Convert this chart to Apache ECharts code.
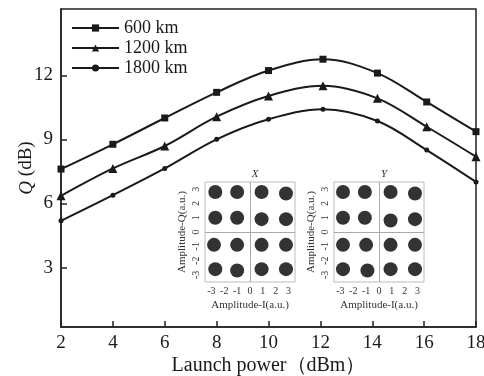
<!DOCTYPE html>
<html>
<head>
<meta charset="utf-8">
<script src="https://cdn.jsdelivr.net/npm/echarts@6/dist/echarts.min.js"></script>
<style>
  html, body { margin: 0; padding: 0; background: #fff; }
  #chart-container { width: 484px; height: 376px; }
</style>
</head>
<body>
<div id="chart-container"></div>
<script>
// launch power (dBm) where markers sit
const powerX = [2, 4, 6, 8, 10, 12.1, 14.2, 16.1, 18];
const q600 = [7.61, 8.77, 10.0, 11.2, 12.22, 12.75, 12.1, 10.75, 9.36];
const q1200 = [6.36, 7.64, 8.69, 10.06, 11.03, 11.51, 10.92, 9.59, 8.19];
const q1800 = [5.19, 6.39, 7.64, 9.0, 9.94, 10.41, 9.86, 8.5, 7.01];
const yTicks = [3, 6, 9, 12];

// constellation cluster centres [I, Q]
const constX = [
  [-2.7, 2.8], [-1.0, 2.8], [0.9, 2.8], [2.8, 2.7],
  [-2.7, 1.0], [-1.0, 1.0], [0.9, 0.9], [2.8, 0.9],
  [-2.8, -0.9], [-1.0, -0.9], [0.9, -0.9], [2.8, -0.9],
  [-2.7, -2.6], [-1.0, -2.7], [0.9, -2.6], [2.8, -2.6]
];
const constY = [
  [-2.8, 2.8], [-1.1, 2.8], [0.9, 2.8], [2.8, 2.7],
  [-2.8, 1.0], [-1.1, 1.0], [0.9, 0.8], [2.8, 0.9],
  [-2.8, -0.9], [-1.0, -0.9], [0.9, -0.9], [2.8, -0.9],
  [-2.8, -2.6], [-0.9, -2.7], [0.9, -2.6], [2.8, -2.6]
];
const insetTicks = [-3, -2, -1, 0, 1, 2, 3];

const serif = "'Liberation Serif', 'DejaVu Serif', serif";
const ink = "#1a1a1a";

const chart = echarts.init(document.getElementById("chart-container"), null, { renderer: "canvas" });

const pair = (xs, ys) => xs.map((x, i) => [x, ys[i]]);

const lineSeries = (name, data, symbol, size) => ({
  name: name,
  type: "line",
  xAxisIndex: 0,
  yAxisIndex: 0,
  data: pair(powerX, data),
  smooth: 0.35,
  symbol: symbol,
  symbolSize: size,
  showAllSymbol: true,
  lineStyle: { color: ink, width: 2 },
  itemStyle: { color: ink },
  z: 3
});

const insetX = (gridIndex) => ({
  type: "value",
  gridIndex: gridIndex,
  min: -3.5,
  max: 3.5,
  name: "Amplitude-I(a.u.)",
  nameLocation: "middle",
  nameGap: 18,
  nameTextStyle: { fontFamily: serif, fontSize: 11, color: "#333" },
  axisLine: { show: false },
  axisTick: { show: true, customValues: insetTicks, length: 2, inside: true, lineStyle: { color: "#999" } },
  axisLabel: { customValues: insetTicks, fontFamily: serif, fontSize: 10, color: "#333", margin: 4 },
  splitLine: { show: false }
});

const insetY = (gridIndex) => ({
  type: "value",
  gridIndex: gridIndex,
  min: -3.5,
  max: 3.5,
  name: "Amplitude-Q(a.u.)",
  nameLocation: "middle",
  nameGap: 17,
  nameTextStyle: { fontFamily: serif, fontSize: 11, color: "#333" },
  axisLine: { show: false },
  axisTick: { show: true, customValues: insetTicks, length: 2, inside: true, lineStyle: { color: "#999" } },
  axisLabel: { customValues: insetTicks, rotate: 90, fontFamily: serif, fontSize: 10, color: "#333", margin: 4 },
  splitLine: { show: false }
});

const constSeries = (gridIndex, data) => ({
  type: "scatter",
  xAxisIndex: gridIndex,
  yAxisIndex: gridIndex,
  data: data,
  symbol: "circle",
  symbolSize: 14,
  itemStyle: { color: "#333", opacity: 1 },
  silent: true,
  markLine: {
    silent: true,
    symbol: "none",
    label: { show: false },
    lineStyle: { color: "#aaa", type: "solid", width: 1 },
    data: [{ xAxis: 0 }, { yAxis: 0 }]
  },
  z: 5
});

const option = {
  backgroundColor: "#fff",
  animation: false,
  title: [
    { text: "X", left: 250, top: 164, textAlign: "center",
      textStyle: { fontFamily: serif, fontStyle: "italic", fontWeight: "normal", fontSize: 11, color: "#333" } },
    { text: "Y", left: 379, top: 164, textAlign: "center",
      textStyle: { fontFamily: serif, fontStyle: "italic", fontWeight: "normal", fontSize: 11, color: "#333" } }
  ],
  legend: {
    orient: "vertical",
    left: 71,
    top: 19,
    padding: 0,
    itemWidth: 47,
    itemHeight: 9,
    itemGap: 2,
    data: ["600 km", "1200 km", "1800 km"],
    textStyle: { fontFamily: serif, fontSize: 18, lineHeight: 18, color: ink, padding: [0, 0, 0, 0] }
  },
  grid: [
    { left: 61, right: 8, top: 9, bottom: 49, show: true, borderColor: "#222", borderWidth: 1.5,
      containLabel: false, outerBoundsMode: "none" },
    { left: 205, top: 182, width: 90, height: 100, show: true, borderColor: "#bbb", borderWidth: 1,
      backgroundColor: "#fff", z: 4, outerBoundsMode: "none" },
    { left: 334, top: 182, width: 90, height: 100, show: true, borderColor: "#bbb", borderWidth: 1,
      backgroundColor: "#fff", z: 4, outerBoundsMode: "none" }
  ],
  xAxis: [
    {
      type: "value",
      gridIndex: 0,
      min: 2,
      max: 18,
      interval: 2,
      name: "Launch power（dBm）",
      nameLocation: "middle",
      nameGap: 29,
      nameMoveOverlap: false,
      nameTextStyle: { fontFamily: serif, fontSize: 20, color: ink },
      axisLine: { lineStyle: { color: "#222", width: 1.5 } },
      axisTick: { inside: true, length: 6, lineStyle: { color: "#222", width: 1.5 } },
      axisLabel: { fontFamily: serif, fontSize: 19, color: ink, margin: 7 },
      splitLine: { show: false }
    },
    insetX(1),
    insetX(2)
  ],
  yAxis: [
    {
      type: "value",
      gridIndex: 0,
      min: 0.22,
      max: 15.1,
      name: "{q|Q} (dB)",
      nameLocation: "middle",
      nameGap: 25,
      nameMoveOverlap: false,
      nameTextStyle: {
        fontFamily: serif, fontSize: 19, color: ink,
        rich: { q: { fontFamily: serif, fontSize: 19, fontStyle: "italic", color: ink } }
      },
      axisLine: { lineStyle: { color: "#222", width: 1.5 } },
      axisTick: { inside: true, length: 6, customValues: yTicks, lineStyle: { color: "#222", width: 1.5 } },
      axisLabel: { customValues: yTicks, fontFamily: serif, fontSize: 19, color: ink, margin: 8 },
      splitLine: { show: false }
    },
    insetY(1),
    insetY(2)
  ],
  series: [
    lineSeries("600 km", q600, "rect", 7),
    lineSeries("1200 km", q1200, "triangle", 9),
    lineSeries("1800 km", q1800, "circle", 5),
    constSeries(1, constX),
    constSeries(2, constY)
  ]
};

chart.setOption(option);
</script>
</body>
</html>
